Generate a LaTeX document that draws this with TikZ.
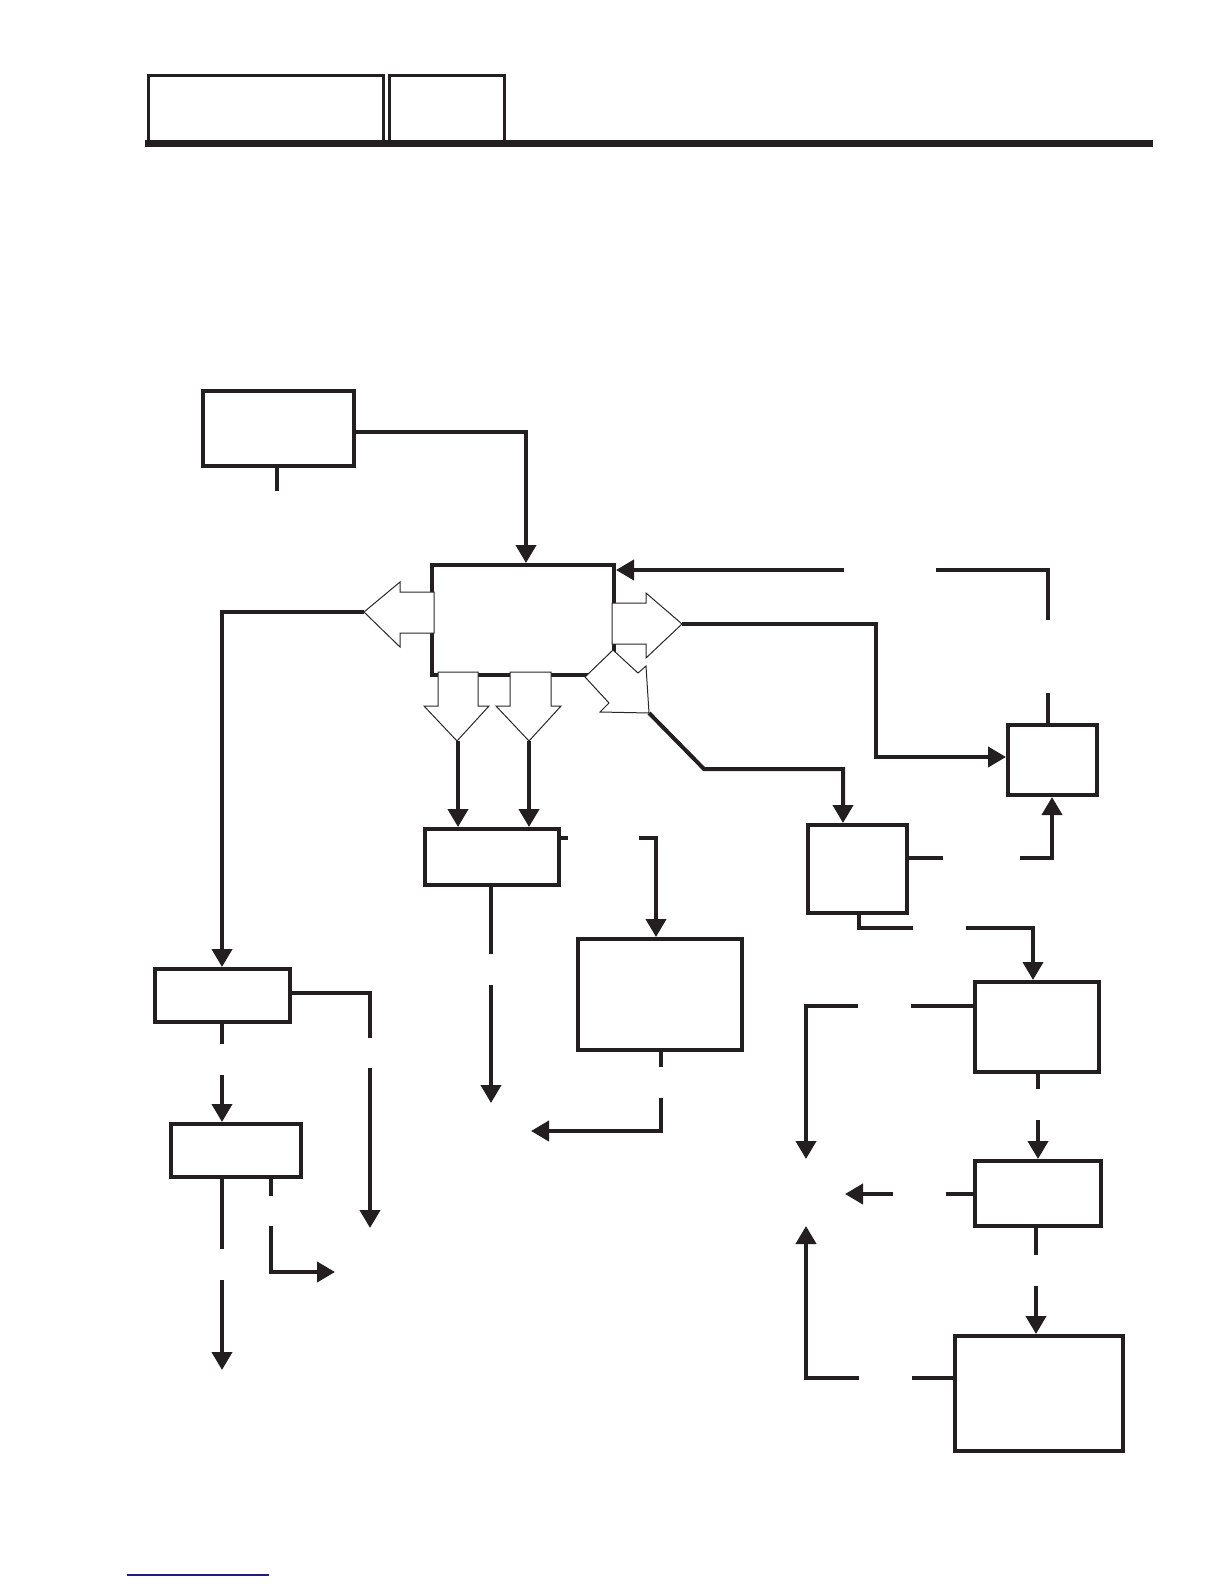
\documentclass[tikz,border=0pt]{standalone}
\usetikzlibrary{arrows.meta}
\definecolor{ink}{RGB}{35,31,32}
\definecolor{hollowink}{RGB}{40,40,40}
\definecolor{linkblue}{RGB}{30,30,130}
\begin{document}
\begin{tikzpicture}[x=1pt,y=-1pt,
  box/.style={draw=ink,line width=4pt,rectangle,inner sep=0pt,outer sep=0pt,fill=white},
  hdrbox/.style={draw=ink,line width=3pt},
  wire/.style={draw=ink,line width=4pt},
  arr/.style={wire,-{Triangle[length=18pt,width=20pt]}},
  hollow/.style={draw=hollowink,line width=1pt,fill=white,line join=miter}]
\useasboundingbox (0,0) rectangle (1224,1584);

% header
\draw[hdrbox] (148.5,141) -- (148.5,75.5) -- (383.5,75.5) -- (383.5,141);
\draw[hdrbox] (389.5,141) -- (389.5,75.5) -- (504.5,75.5) -- (504.5,141);
\fill[ink] (145,140) rectangle (1153,147);

% boxes
\node[box,minimum width=151pt,minimum height=75pt] (T) at (278.5,428.5) {};
\node[box,minimum width=182pt,minimum height=110pt] (C) at (523,620) {};
\node[box,minimum width=89pt,minimum height=70pt] (RS) at (1052.5,760) {};
\node[box,minimum width=134pt,minimum height=56pt] (M1) at (492,857) {};
\node[box,minimum width=164pt,minimum height=111pt] (M2) at (660,994.5) {};
\node[box,minimum width=99pt,minimum height=88pt] (P) at (857.5,869) {};
\node[box,minimum width=135pt,minimum height=53pt] (A) at (222.5,995.5) {};
\node[box,minimum width=130pt,minimum height=53pt] (B) at (236,1150.5) {};
\node[box,minimum width=124pt,minimum height=90pt] (Q) at (1037,1027) {};
\node[box,minimum width=126pt,minimum height=65pt] (R) at (1038,1193.5) {};
\node[box,minimum width=168pt,minimum height=115pt] (S) at (1039,1393.5) {};

% hollow arrows on central box
\draw[hollow] (434,592) -- (400,592) -- (400,582) -- (364,612) -- (400,647) -- (400,633) -- (434,633) -- cycle;
\draw[hollow] (612,603) -- (646,603) -- (646,593) -- (682,624) -- (646,658) -- (646,644) -- (612,644) -- cycle;
\draw[hollow] (438,672) -- (478,672) -- (478,706) -- (489,706) -- (457,741) -- (424,706) -- (438,706) -- cycle;
\draw[hollow] (510,672) -- (551,672) -- (551,706) -- (561,706) -- (529,741) -- (496,706) -- (510,706) -- cycle;
\draw[hollow] (585,677) -- (613,650) -- (638,673) -- (646,666) -- (649,713) -- (600,712) -- (609,703) -- cycle;
\coordinate (hl) at (364,612);
\coordinate (hr) at (682,624);
\coordinate (hd1) at (458,741);
\coordinate (hd2) at (529,741);
\coordinate (hdg) at (649,713);

% connectors
\draw[arr] (354,432) -- (526,432) -- (526,563);
\draw[wire] (277,466) -- (277,491);
\draw[arr] (844,570) -- (616,570);
\draw[wire] (936,570) -- (1048,570) -- (1048,620);
\draw[wire] (1048,693) -- (1048,725);
\draw[arr] (hl) -- (222,612) -- (222,967);
\draw[arr] (hr) -- (876,624) -- (876,757) -- (1006,757);
\draw[arr] (hdg) -- (704,769) -- (843,769) -- (843,823);
\draw[arr] (hd1) -- (458,827);
\draw[arr] (hd2) -- (529,827);

\draw[wire] (561,838) -- (568,838);
\draw[arr] (639,838) -- (656,838) -- (656,937);
\draw[wire] (491,885) -- (491,954);
\draw[arr] (491,985) -- (491,1103);
\draw[wire] (661,1050) -- (661,1067);
\draw[arr] (661,1098) -- (661,1131) -- (531,1131);

\draw[wire] (292,993) -- (370,993) -- (370,1038);
\draw[arr] (370,1068) -- (370,1228);
\draw[wire] (222,1022) -- (222,1044);
\draw[arr] (222,1075) -- (222,1122);
\draw[wire] (222,1177) -- (222,1249);
\draw[arr] (222,1280) -- (222,1370);
\draw[wire] (271,1177) -- (271,1196);
\draw[arr] (271,1226) -- (271,1272) -- (335,1272);

\draw[wire] (907,858) -- (943,858);
\draw[arr] (1020,858) -- (1052,858) -- (1052,797);
\draw[wire] (859,913) -- (859,928) -- (913,928);
\draw[arr] (966,928) -- (1033,928) -- (1033,980);
\draw[wire] (975,1006) -- (911,1006);
\draw[arr] (858,1006) -- (806,1006) -- (806,1159);
\draw[wire] (1038,1072) -- (1038,1089);
\draw[arr] (1038,1120) -- (1038,1159);
\draw[wire] (975,1194) -- (946,1194);
\draw[arr] (893,1194) -- (845,1194);
\draw[wire] (1036,1226) -- (1036,1255);
\draw[arr] (1036,1286) -- (1036,1334);
\draw[wire] (955,1378) -- (912,1378);
\draw[arr] (859,1378) -- (806,1378) -- (806,1226);

% footer link line
\draw[linkblue,line width=1.2pt] (127,1575) -- (269,1575);
\end{tikzpicture}
\end{document}
